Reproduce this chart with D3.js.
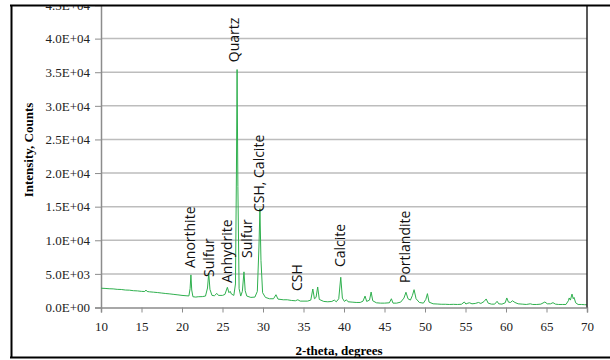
<!DOCTYPE html>
<html>
<head>
<meta charset="utf-8">
<script src="https://cdn.jsdelivr.net/npm/d3@7"></script>
<style>
  body { margin: 0; background: #fff; }
</style>
</head>
<body>
<div id="chart"></div>
<script>
// XRD scan: [2-theta, counts]
const scan = [
  [10.0, 2870], [10.5, 2840], [11.0, 2790], [11.5, 2770], [12.0, 2700], [12.5, 2680],
  [13.0, 2600], [13.5, 2580], [14.0, 2500], [14.5, 2470], [15.0, 2400], [15.4, 2380],
  [15.55, 2600], [15.7, 2380], [16.0, 2330], [16.5, 2280], [17.0, 2220], [17.5, 2150],
  [18.0, 2080], [18.5, 2020], [19.0, 1950], [19.5, 1880], [20.0, 1800], [20.5, 1750],
  [20.85, 1720], [21.0, 2800], [21.1, 4850], [21.2, 2600], [21.35, 1600], [21.7, 1550],
  [22.0, 1600], [22.5, 1620], [22.9, 1700], [23.15, 2900], [23.3, 5100], [23.45, 2700],
  [23.7, 1800], [24.0, 1750], [24.3, 2100], [24.5, 1800], [25.0, 1800], [25.3, 1950],
  [25.6, 3000], [25.8, 2200], [25.95, 2400], [26.1, 2000], [26.4, 1800], [26.6, 3500],
  [26.72, 20000], [26.8, 35400], [26.9, 18000], [27.05, 2800], [27.25, 1700], [27.45, 2400],
  [27.65, 5300], [27.8, 2500], [28.0, 1700], [28.5, 1500], [29.0, 1550], [29.3, 2400],
  [29.5, 9000], [29.62, 14700], [29.75, 7000], [29.95, 2200], [30.3, 1500], [30.8, 1300],
  [31.3, 1300], [31.6, 1900], [31.85, 1250], [32.5, 1150], [33.0, 1150], [33.5, 1050],
  [34.0, 1000], [34.3, 1150], [34.6, 950], [35.5, 950], [35.9, 1100], [36.15, 2750],
  [36.35, 1300], [36.55, 1500], [36.75, 3050], [36.95, 1200], [37.5, 900], [38.0, 850],
  [38.5, 900], [38.8, 1100], [39.05, 850], [39.35, 1300], [39.6, 4500], [39.8, 1400],
  [40.05, 900], [40.3, 1150], [40.5, 850], [41.0, 800], [41.5, 750], [42.0, 750],
  [42.35, 950], [42.6, 1700], [42.8, 900], [43.15, 1100], [43.35, 2300], [43.55, 1000],
  [44.0, 700], [44.5, 650], [45.0, 650], [45.6, 700], [45.85, 1300], [46.05, 650],
  [46.5, 650], [47.0, 800], [47.4, 1400], [47.65, 2270], [47.9, 1300], [48.2, 1100],
  [48.45, 1800], [48.65, 2650], [48.9, 1300], [49.3, 750], [49.8, 650], [50.1, 1200],
  [50.3, 2060], [50.5, 800], [51.0, 550], [51.5, 520], [52.0, 480], [52.5, 480],
  [53.0, 450], [53.5, 470], [54.0, 450], [54.5, 480], [54.85, 820], [55.05, 520],
  [55.3, 650], [55.5, 700], [55.8, 550], [56.2, 600], [56.6, 750], [56.9, 600],
  [57.3, 900], [57.55, 1270], [57.8, 650], [58.2, 500], [58.6, 500], [58.9, 920],
  [59.1, 550], [59.5, 500], [59.9, 700], [60.1, 1420], [60.3, 800], [60.55, 750],
  [60.8, 1000], [61.1, 750], [61.5, 550], [62.0, 500], [62.5, 450], [63.0, 550],
  [63.3, 450], [63.8, 450], [64.3, 500], [64.8, 820], [65.1, 550], [65.5, 550],
  [65.8, 720], [66.1, 500], [66.5, 450], [67.0, 450], [67.4, 450], [67.7, 1000],
  [67.8, 1420], [67.95, 1100], [68.15, 2000], [68.3, 1300], [68.4, 1500], [68.6, 700],
  [68.9, 450], [69.3, 450], [69.7, 420], [70.0, 400]
];

// peak labels: name, 2-theta, counts at the foot of the (rotated) label
const peakNames  = ["Anorthite", "Sulfur", "Anhydrite", "Quartz", "Sulfur", "CSH, Calcite", "CSH", "Calcite", "Portlandite"];
const peakAngles = [21.0, 23.3, 25.6, 26.45, 28.0, 29.5, 34.2, 39.5, 47.5];
const peakBase   = [5870, 4535, 3640, 36500, 7360, 14200, 2450, 6020, 3640];

const xTicks = [10, 15, 20, 25, 30, 35, 40, 45, 50, 55, 60, 65, 70];
const yTicks = [0, 5000, 10000, 15000, 20000, 25000, 30000, 35000, 40000, 45000];

const W = 610, H = 360;
const margin = { top: 5, right: 23, bottom: 52.5, left: 101 };

const svg = d3.select("#chart")
  .append("svg")
    .attr("width", W)
    .attr("height", H);

const x = d3.scaleLinear()
  .domain([10, 70])
  .range([margin.left, W - margin.right]);

const y = d3.scaleLinear()
  .domain([0, 45000])
  .range([H - margin.bottom, margin.top]);

// scientific tick format like 4.0E+04
function sci(d) {
  if (d === 0) return "0.0E+00";
  const e = Math.floor(Math.log10(d));
  const m = d / Math.pow(10, e);
  return m.toFixed(1) + "E+" + String(e).padStart(2, "0");
}

// gridlines
svg.append("g")
  .selectAll("line")
  .data(yTicks.filter(d => d > 0))
  .enter()
  .append("line")
    .attr("x1", x(10))
    .attr("x2", x(70))
    .attr("y1", d => y(d))
    .attr("y2", d => y(d))
    .attr("stroke", "#bdbdbd")
    .attr("stroke-width", 1.5);

// y axis
const yAxis = svg.append("g")
  .attr("transform", `translate(${x(10)},0)`)
  .call(d3.axisLeft(y).tickValues(yTicks).tickFormat(sci).tickSize(6).tickPadding(5));
yAxis.select(".domain").attr("stroke", "#8c8c8c").attr("stroke-width", 1.5);
yAxis.selectAll(".tick line").attr("stroke", "#8c8c8c");
yAxis.selectAll("text")
  .style("font-family", "'Liberation Serif', 'Times New Roman', serif")
  .style("font-size", "13px")
  .attr("fill", "#222");

// x axis
const xAxis = svg.append("g")
  .attr("transform", `translate(0,${y(0)})`)
  .call(d3.axisBottom(x).tickValues(xTicks).tickSize(5).tickPadding(9));
xAxis.select(".domain").attr("stroke", "#8c8c8c").attr("stroke-width", 1.5);
xAxis.selectAll(".tick line").attr("stroke", "#8c8c8c");
xAxis.selectAll("text")
  .style("font-family", "'Liberation Serif', 'Times New Roman', serif")
  .style("font-size", "13px")
  .attr("fill", "#222");

// pattern line
const line = d3.line()
  .x(d => x(d[0]))
  .y(d => y(d[1]));

svg.append("path")
  .datum(scan)
  .attr("d", line)
  .attr("fill", "none")
  .attr("stroke", "#2fb04e")
  .attr("stroke-width", 1)
  .attr("stroke-linejoin", "round");

// peak labels
svg.append("g")
  .selectAll("text")
  .data(peakNames)
  .enter()
  .append("text")
    .attr("transform", (d, i) => `translate(${x(peakAngles[i])},${y(peakBase[i])}) rotate(-90)`)
    .attr("dy", "0.35em")
    .attr("text-anchor", "start")
    .style("font-family", "'Open Sans', sans-serif")
    .style("font-size", "14px")
    .attr("fill", "#111")
    .text(d => d);

// right edge of the plot area
svg.append("line")
  .attr("x1", x(70)).attr("x2", x(70))
  .attr("y1", margin.top).attr("y2", y(0))
  .attr("stroke", "#222")
  .attr("stroke-width", 1.5);

// axis titles
svg.append("text")
  .attr("x", 339)
  .attr("y", 355)
  .attr("text-anchor", "middle")
  .style("font-family", "'Liberation Serif', 'Times New Roman', serif")
  .style("font-size", "13px")
  .style("font-weight", "bold")
  .text("2-theta, degrees");

svg.append("text")
  .attr("transform", "translate(33,150) rotate(-90)")
  .attr("text-anchor", "middle")
  .style("font-family", "'Liberation Serif', 'Times New Roman', serif")
  .style("font-size", "13px")
  .style("font-weight", "bold")
  .text("Intensity, Counts");

// figure frame (cropped at the top)
svg.append("rect")
  .attr("x", 0).attr("y", 0)
  .attr("width", W).attr("height", 5)
  .attr("fill", "#fff");
svg.append("line")
  .attr("x1", 10).attr("x2", W)
  .attr("y1", 5.5).attr("y2", 5.5)
  .attr("stroke", "#000").attr("stroke-width", 2);
svg.append("line")
  .attr("x1", 11.5).attr("x2", 11.5)
  .attr("y1", 5).attr("y2", 358)
  .attr("stroke", "#000").attr("stroke-width", 2);
svg.append("line")
  .attr("x1", 10).attr("x2", W)
  .attr("y1", 357.5).attr("y2", 357.5)
  .attr("stroke", "#000").attr("stroke-width", 2);
</script>
</body>
</html>
